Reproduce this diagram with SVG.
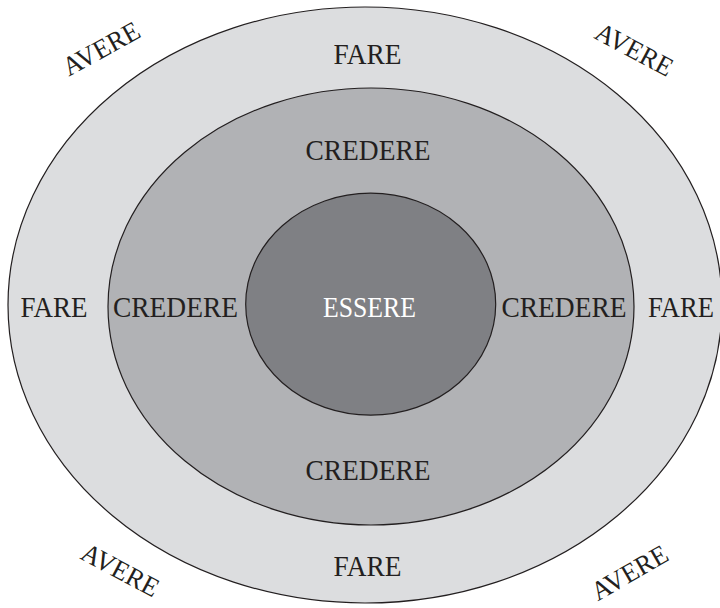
<svg xmlns="http://www.w3.org/2000/svg" width="720" height="608" viewBox="0 0 720 608">
<style>
.ring{stroke:#231f20;stroke-width:1.2}
.t{font-family:"Liberation Serif","Times New Roman",serif;font-size:29px;fill:#231f20;text-anchor:middle}
.w{fill:#ffffff}
.av{font-size:27px}
</style>
<rect width="720" height="608" fill="#ffffff"/>
<g id="avere">
<text class="t av" transform="translate(105.5,56.5) rotate(-29)" textLength="84" lengthAdjust="spacingAndGlyphs">AVERE</text>
<text class="t av" transform="translate(630,57.5) rotate(28)" textLength="84" lengthAdjust="spacingAndGlyphs">AVERE</text>
<text class="t av" transform="translate(116,578) rotate(28)" textLength="84" lengthAdjust="spacingAndGlyphs">AVERE</text>
<text class="t av" transform="translate(634,580.5) rotate(-30)" textLength="84" lengthAdjust="spacingAndGlyphs">AVERE</text>
</g>
<g id="fare">
<ellipse class="ring" cx="365" cy="305" rx="357" ry="298" fill="#dcdddf"/>
<text class="t" x="367.5" y="64" textLength="68" lengthAdjust="spacingAndGlyphs">FARE</text>
<text class="t" x="54" y="317" textLength="67" lengthAdjust="spacingAndGlyphs">FARE</text>
<text class="t" x="681" y="317" textLength="66" lengthAdjust="spacingAndGlyphs">FARE</text>
<text class="t" x="367.5" y="576" textLength="68" lengthAdjust="spacingAndGlyphs">FARE</text>
</g>
<g id="credere">
<ellipse class="ring" cx="371" cy="306.5" rx="263" ry="218.5" fill="#b1b2b5"/>
<text class="t" x="368" y="160" textLength="125" lengthAdjust="spacingAndGlyphs">CREDERE</text>
<text class="t" x="175.5" y="317" textLength="125" lengthAdjust="spacingAndGlyphs">CREDERE</text>
<text class="t" x="564" y="317" textLength="125" lengthAdjust="spacingAndGlyphs">CREDERE</text>
<text class="t" x="368" y="480" textLength="125" lengthAdjust="spacingAndGlyphs">CREDERE</text>
</g>
<g id="essere">
<ellipse class="ring" cx="370.7" cy="304.2" rx="125" ry="111" fill="#7f8084"/>
<text class="t w" x="369.5" y="317" textLength="93" lengthAdjust="spacingAndGlyphs">ESSERE</text>
</g>
<g id="connectors"/>
</svg>
